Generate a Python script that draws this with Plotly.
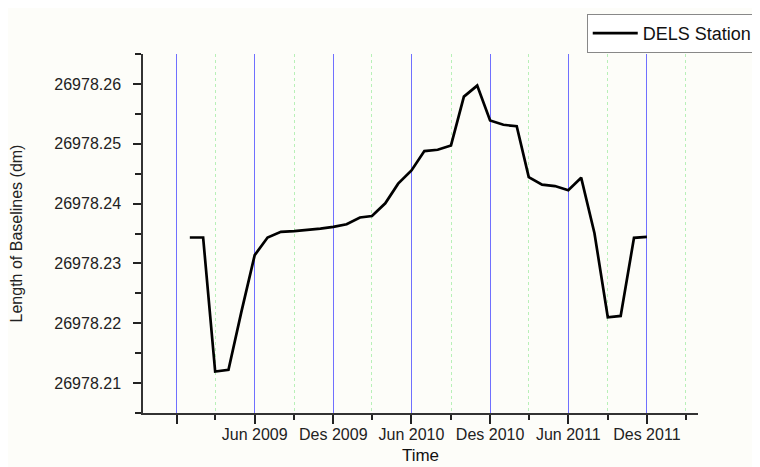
import plotly.graph_objects as go

months = [
    "2009-01-01", "2009-02-01", "2009-03-01", "2009-04-01", "2009-05-01", "2009-06-01",
    "2009-07-01", "2009-08-01", "2009-09-01", "2009-10-01", "2009-11-01", "2009-12-01",
    "2010-01-01", "2010-02-01", "2010-03-01", "2010-04-01", "2010-05-01", "2010-06-01",
    "2010-07-01", "2010-08-01", "2010-09-01", "2010-10-01", "2010-11-01", "2010-12-01",
    "2011-01-01", "2011-02-01", "2011-03-01", "2011-04-01", "2011-05-01", "2011-06-01",
    "2011-07-01", "2011-08-01", "2011-09-01", "2011-10-01", "2011-11-01", "2011-12-01",
]

baseline_dm = [
    26978.23433, 26978.23433, 26978.21193, 26978.21222, 26978.22190, 26978.23138,
    26978.23433, 26978.23527, 26978.23540, 26978.23555, 26978.23580, 26978.23610,
    26978.23655, 26978.23767, 26978.23793, 26978.24005, 26978.24333, 26978.24555,
    26978.24877, 26978.24900, 26978.24972, 26978.25788, 26978.25972, 26978.25388,
    26978.25317, 26978.25293, 26978.24443, 26978.24317, 26978.24293, 26978.24222,
    26978.24433, 26978.23505, 26978.22100, 26978.22122, 26978.23427, 26978.23443,
]

major_dates = ["2008-12-01", "2009-06-01", "2009-12-01", "2010-06-01",
               "2010-12-01", "2011-06-01", "2011-12-01"]
major_labels = ["", "Jun 2009", "Des 2009", "Jun 2010", "Des 2010", "Jun 2011", "Des 2011"]
minor_dates = ["2009-03-01", "2009-09-01", "2010-03-01", "2010-09-01",
               "2011-03-01", "2011-09-01", "2012-03-01"]

font_family = "Arial, Liberation Sans, sans-serif"

fig = go.Figure()
fig.add_trace(go.Scatter(
    x=months,
    y=baseline_dm,
    mode="lines",
    name="DELS Station",
    line=dict(color="black", width=2.7),
))

# the page body keeps its default 8px margin, so the figure is 8px smaller
fig.update_layout(
    width=752,
    height=459,
    paper_bgcolor="#fdfdf9",
    plot_bgcolor="#fdfdf9",
    font=dict(family=font_family, size=16, color="#222222"),
    margin=dict(l=135, r=62, t=46, b=54, autoexpand=False),
    showlegend=True,
    legend=dict(
        xref="container", yref="container",
        x=0.997, y=0.987, xanchor="right", yanchor="top",
        bgcolor="white", bordercolor="#888888", borderwidth=1,
        font=dict(size=18, color="#111111"),
        itemwidth=45,
    ),
)

fig.update_xaxes(
    type="date",
    automargin=False,
    range=["2008-09-14", "2012-03-29"],
    tickmode="array",
    tickvals=major_dates,
    ticktext=major_labels,
    ticks="outside",
    ticklen=9,
    tickwidth=1.5,
    tickcolor="#222222",
    tickfont=dict(size=16),
    ticklabelstandoff=-3,
    showline=True,
    linecolor="#333333",
    linewidth=1.5,
    showgrid=True,
    gridcolor="#7070ff",
    gridwidth=1,
    zeroline=False,
    minor=dict(
        tickmode="array",
        tickvals=minor_dates,
        ticks="outside",
        ticklen=5,
        tickwidth=1.5,
        tickcolor="#222222",
        showgrid=True,
        gridcolor="#b8f0b8",
        griddash="dot",
        gridwidth=1,
    ),
    title=dict(text="Time", font=dict(size=17, color="#111111"), standoff=7),
)

fig.update_yaxes(
    automargin=False,
    range=[26978.205, 26978.265],
    tick0=26978.21,
    dtick=0.01,
    tickformat=".2f",
    ticks="outside",
    ticklen=8,
    tickwidth=1.5,
    tickcolor="#222222",
    ticklabelstandoff=9,
    showline=True,
    linecolor="#333333",
    linewidth=1.5,
    showgrid=False,
    zeroline=False,
    minor=dict(dtick=0.005, ticks="outside", ticklen=6, tickwidth=1.5,
               tickcolor="#222222", showgrid=False),
    title=dict(text="Length of Baselines (dm)", font=dict(size=16, color="#222222"),
               standoff=34),
)

fig.write_html("out.html")
